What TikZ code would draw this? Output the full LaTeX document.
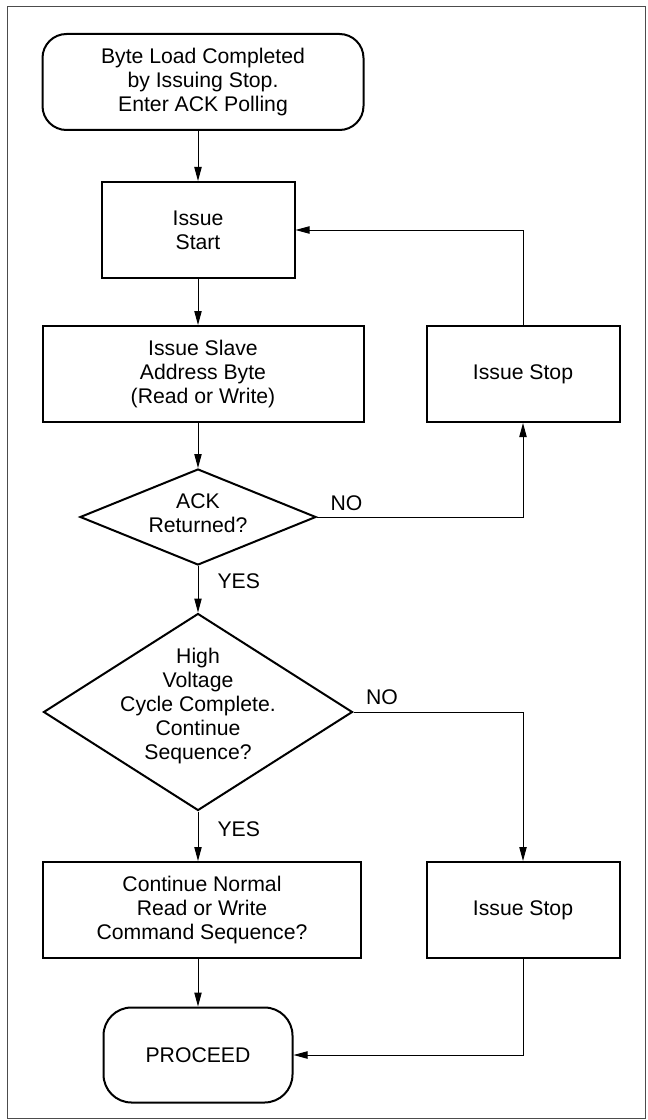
\documentclass[tikz,border=0pt]{standalone}
\usepackage{fontspec}
\setmainfont{Liberation Sans}
\usetikzlibrary{shapes.geometric,arrows.meta}

\begin{document}
\begin{tikzpicture}[x=0.75pt,y=-0.75pt,
  font=\fontsize{15.9}{18}\selectfont,
  box/.style={draw,line width=1.5pt,align=center,minimum width=240.75pt,minimum height=72pt,inner sep=0pt},
  stopbox/.style={box,minimum width=144.75pt},
  term/.style={box,rounded corners=18pt},
  decision/.style={draw,diamond,line width=1.5pt,inner sep=0pt},
  flow/.style={line width=0.75pt,-{Triangle[length=10.5pt,width=5.5pt]}},
  lbl/.style={inner sep=0pt}]
\useasboundingbox (0,0) rectangle (648,1120);
\draw[line width=0.75pt,black!70] (7,7) rectangle (645,1118);

\node[term] (load) at (203,82) {Byte Load Completed\\by Issuing Stop.\\Enter ACK Polling};
\node[stopbox] (start) at (198,230) {Issue\\Start};
\node[box] (slave) at (203,374) {Issue Slave\\Address Byte\\(Read or Write)};
\node[stopbox] (stopa) at (523,374) {Issue Stop};
\node[decision,minimum width=177pt,minimum height=72pt] (ack) at (198,517) {};
\node[align=center] (ackq) at (198,513) {ACK\\Returned?};
\node[decision,minimum width=231.75pt,minimum height=147.75pt] (hv) at (198,712) {};
\node[align=center] (hvq) at (198,706) {High\\Voltage\\Cycle Complete.\\Continue\\Sequence?};
\node[box,minimum width=238.5pt] (cont) at (202,910) {Continue Normal\\Read or Write\\Command Sequence?};
\node[stopbox] (stopb) at (523,910) {Issue Stop};
\node[term,minimum width=141.75pt,minimum height=71.25pt,rounded corners=21pt] (proceed) at (198,1055) {PROCEED};

\draw[flow] (start.north |- load.south) -- (start.north);
\draw[flow] (start.south) -- (start.south |- slave.north);
\draw[flow] (slave.south -| ack.north) -- (ack.north);
\draw[flow] (ack.east) -| (stopa.south) node[lbl,pos=0,anchor=south west,xshift=9.75pt,yshift=4.5pt] {NO};
\draw[flow] (stopa.north) |- (start.east);
\draw[flow] (ack.south) -- (hv.north) node[lbl,pos=0,anchor=north west,xshift=14.25pt,yshift=-5.25pt] {YES};
\draw[flow] (hv.east) -| (stopb.north) node[lbl,pos=0,anchor=south west,xshift=9pt,yshift=5.25pt] {NO};
\draw[flow] (hv.south) -- (hv.south |- cont.north) node[lbl,pos=0,anchor=north west,xshift=14.25pt,yshift=-7.5pt] {YES};
\draw[flow] (cont.south -| proceed.north) -- (proceed.north);
\draw[flow] (stopb.south) |- (proceed.east);
\end{tikzpicture}
\end{document}
